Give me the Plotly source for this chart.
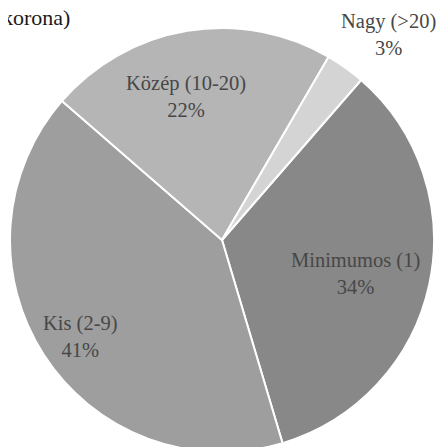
import math
import plotly.graph_objects as go

labels = ["Minimumos (1)", "Kis (2-9)", "Közép (10-20)", "Nagy (>20)"]
values = [34, 41, 22, 3]
colors = ["#888888", "#9e9e9e", "#b5b5b5", "#d4d4d4"]
title_text = "korona)"

# style: label placement (distance from pie centre in px, angular nudge in degrees)
label_dist = [138, 171, 148, 264]
label_nudge = [2.0, -1.5, -4.6, 3.4]

W, H = 444, 447
R = 212
CX, CY = 214, 232  # pie centre in px from the figure's top-left
ROT = 41

fig = go.Figure(go.Pie(
    labels=labels,
    values=values,
    sort=False,
    direction="clockwise",
    rotation=ROT,
    marker=dict(colors=colors, line=dict(color="white", width=2)),
    textinfo="none",
    domain=dict(x=[(CX - R) / W, (CX + R) / W],
                y=[(H - CY - R) / H, (H - CY + R) / H]),
    showlegend=False,
    hoverinfo="label+percent",
))

total = sum(values)
cum = 0
for lab, v, d, nud in zip(labels, values, label_dist, label_nudge):
    mid = ROT + (cum + v / 2) / total * 360 + nud
    cum += v
    px = CX + d * math.sin(math.radians(mid))
    py = CY - d * math.cos(math.radians(mid))
    fig.add_annotation(
        text=f"{lab}<br>{round(100 * v / total)}%",
        x=px / W, y=1 - py / H, xref="paper", yref="paper",
        xanchor="center", yanchor="middle", showarrow=False,
        font=dict(family="Liberation Serif", size=20.5, color="#474747"),
    )

fig.add_annotation(
    text=title_text, x=0, y=1, xref="paper", yref="paper",
    xanchor="left", yanchor="top", showarrow=False,
    font=dict(family="Liberation Serif", size=22, color="#1a1a1a"),
    xshift=-8, yshift=5,
)

fig.update_layout(
    width=W, height=H,
    margin=dict(l=0, r=0, t=0, b=0),
    paper_bgcolor="white",
    plot_bgcolor="white",
)

fig.write_html("out.html")
